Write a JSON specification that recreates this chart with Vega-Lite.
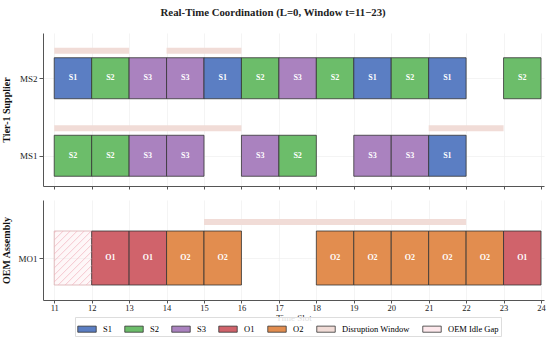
{
  "$schema": "https://vega.github.io/schema/vega-lite/v6.json",
  "padding": {"left": 1, "top": 7, "right": 4, "bottom": 2},
  "background": "white",
  "config": {
    "font": "Liberation Serif",
    "view": {"stroke": null},
    "axis": {
      "labelFont": "Liberation Serif", "titleFont": "Liberation Serif",
      "labelFontSize": 9, "titleFontSize": 10, "labelColor": "#222", "titleColor": "#111",
      "domainColor": "#555", "tickColor": "#555", "tickSize": 4,
      "gridColor": "#ececec", "gridWidth": 0.6
    },
    "axisX": {"tickSize": 3},
    "legend": {"labelFont": "Liberation Serif", "labelFontSize": 8.5}
  },
  "title": {"text": "Real-Time Coordination (L=0, Window t=11\u221223)", "anchor": "middle", "font": "Liberation Serif", "fontSize": 10.8, "fontWeight": "bold", "color": "#222", "offset": 15},
  "datasets": {
    "tasks": [
      {"machine": "MS2", "start": 11, "end": 12, "task": "S1"},
      {"machine": "MS2", "start": 12, "end": 13, "task": "S2"},
      {"machine": "MS2", "start": 13, "end": 14, "task": "S3"},
      {"machine": "MS2", "start": 14, "end": 15, "task": "S3"},
      {"machine": "MS2", "start": 15, "end": 16, "task": "S1"},
      {"machine": "MS2", "start": 16, "end": 17, "task": "S2"},
      {"machine": "MS2", "start": 17, "end": 18, "task": "S3"},
      {"machine": "MS2", "start": 18, "end": 19, "task": "S2"},
      {"machine": "MS2", "start": 19, "end": 20, "task": "S1"},
      {"machine": "MS2", "start": 20, "end": 21, "task": "S2"},
      {"machine": "MS2", "start": 21, "end": 22, "task": "S1"},
      {"machine": "MS2", "start": 23, "end": 24, "task": "S2"},
      {"machine": "MS1", "start": 11, "end": 12, "task": "S2"},
      {"machine": "MS1", "start": 12, "end": 13, "task": "S2"},
      {"machine": "MS1", "start": 13, "end": 14, "task": "S3"},
      {"machine": "MS1", "start": 14, "end": 15, "task": "S3"},
      {"machine": "MS1", "start": 16, "end": 17, "task": "S3"},
      {"machine": "MS1", "start": 17, "end": 18, "task": "S2"},
      {"machine": "MS1", "start": 19, "end": 20, "task": "S3"},
      {"machine": "MS1", "start": 20, "end": 21, "task": "S3"},
      {"machine": "MS1", "start": 21, "end": 22, "task": "S1"}
    ],
    "oem": [
      {"machine": "MO1", "start": 12, "end": 13, "task": "O1"},
      {"machine": "MO1", "start": 13, "end": 14, "task": "O1"},
      {"machine": "MO1", "start": 14, "end": 15, "task": "O2"},
      {"machine": "MO1", "start": 15, "end": 16, "task": "O2"},
      {"machine": "MO1", "start": 18, "end": 19, "task": "O2"},
      {"machine": "MO1", "start": 19, "end": 20, "task": "O2"},
      {"machine": "MO1", "start": 20, "end": 21, "task": "O2"},
      {"machine": "MO1", "start": 21, "end": 22, "task": "O2"},
      {"machine": "MO1", "start": 22, "end": 23, "task": "O2"},
      {"machine": "MO1", "start": 23, "end": 24, "task": "O1"}
    ],
    "disrupt_top": [
      {"machine": "MS2", "start": 11, "end": 13, "kind": "Disruption Window"},
      {"machine": "MS2", "start": 14, "end": 16, "kind": "Disruption Window"},
      {"machine": "MS1", "start": 11, "end": 16, "kind": "Disruption Window"},
      {"machine": "MS1", "start": 21, "end": 23, "kind": "Disruption Window"}
    ],
    "disrupt_oem": [
      {"machine": "MO1", "start": 15, "end": 22, "kind": "Disruption Window"}
    ],
    "idle": [
      {"machine": "MO1", "start": 11, "end": 12, "kind": "OEM Idle Gap"}
    ],
    "hatch": [
      {"x0": 11.0, "y0": 0.963, "x1": 11.053, "y1": 1.0},
      {"x0": 11.0, "y0": 0.833, "x1": 11.240, "y1": 1.0},
      {"x0": 11.0, "y0": 0.704, "x1": 11.427, "y1": 1.0},
      {"x0": 11.0, "y0": 0.574, "x1": 11.614, "y1": 1.0},
      {"x0": 11.0, "y0": 0.444, "x1": 11.801, "y1": 1.0},
      {"x0": 11.0, "y0": 0.315, "x1": 11.988, "y1": 1.0},
      {"x0": 11.0, "y0": 0.185, "x1": 12.0, "y1": 0.880},
      {"x0": 11.0, "y0": 0.056, "x1": 12.0, "y1": 0.750},
      {"x0": 11.107, "y0": 0.0, "x1": 12.0, "y1": 0.620},
      {"x0": 11.294, "y0": 0.0, "x1": 12.0, "y1": 0.491},
      {"x0": 11.481, "y0": 0.0, "x1": 12.0, "y1": 0.361},
      {"x0": 11.667, "y0": 0.0, "x1": 12.0, "y1": 0.231},
      {"x0": 11.854, "y0": 0.0, "x1": 12.0, "y1": 0.102}
    ]
  },
  "resolve": {"scale": {"fill": "shared", "x": "shared"}, "legend": {"fill": "shared"}},
  "spacing": 10,
  "vconcat": [
    {
      "width": 501,
      "height": 153,
      "layer": [
        {
          "data": {"name": "disrupt_top"},
          "mark": {"type": "bar", "height": 6, "yOffset": -20},
          "encoding": {
            "x": {"field": "start", "type": "quantitative", "scale": {"domain": [10.7, 24.08], "nice": false, "zero": false},
                  "axis": {"values": [11,12,13,14,15,16,17,18,19,20,21,22,23,24], "tickCount": 30, "format": "d", "labels": false, "title": null, "grid": true}},
            "x2": {"field": "end"},
            "y": {"field": "machine", "type": "nominal", "scale": {"domain": ["MS2", "MS1"], "paddingInner": 0.2, "paddingOuter": 0.087},
                  "axis": {"title": "Tier-1 Supplier", "titleFontWeight": "bold", "grid": true, "bandPosition": 0.5, "tickOffset": 7.5, "minExtent": 30, "maxExtent": 30, "titlePadding": 2}},
            "fill": {"field": "kind", "type": "nominal",
                     "scale": {"domain": ["S1", "S2", "S3", "O1", "O2", "Disruption Window", "OEM Idle Gap"],
                               "range": ["#5b7ec3", "#6cbd6a", "#aa82bf", "#d0636b", "#e28d4f", "#f1dcd7", "#fde8ec"]},
                     "legend": {"title": null, "orient": "none", "legendX": 32, "legendY": 284, "direction": "horizontal", "columns": 7,
                                "symbolType": "M-1,-0.33H1V0.33H-1Z", "symbolSize": 340, "symbolStrokeColor": "#555", "symbolStrokeWidth": 0.8,
                                "columnPadding": 11, "labelOffset": 6, "padding": 2, "strokeColor": "#dddddd", "fillColor": "rgba(255,255,255,0.85)"}}
          }
        },
        {
          "data": {"name": "tasks"},
          "mark": {"type": "bar", "height": 41, "yOffset": 7.5, "stroke": "#333", "strokeWidth": 0.8},
          "encoding": {
            "x": {"field": "start", "type": "quantitative"},
            "x2": {"field": "end"},
            "y": {"field": "machine", "type": "nominal"},
            "fill": {"field": "task", "type": "nominal"}
          }
        },
        {
          "data": {"name": "tasks"},
          "mark": {"type": "text", "yOffset": 7.5, "dx": 18.7, "align": "center", "baseline": "middle", "color": "white", "fontWeight": "bold", "fontSize": 8},
          "encoding": {
            "x": {"field": "start", "type": "quantitative"},
            "y": {"field": "machine", "type": "nominal"},
            "text": {"field": "task"}
          }
        }
      ]
    },
    {
      "width": 501,
      "height": 100,
      "resolve": {"scale": {"y": "independent"}, "axis": {"y": "independent"}},
      "layer": [
        {
          "layer": [
            {
              "data": {"name": "disrupt_oem"},
              "mark": {"type": "bar", "height": 6, "yOffset": -28},
              "encoding": {
                "x": {"field": "start", "type": "quantitative", "scale": {"domain": [10.7, 24.08], "nice": false, "zero": false},
                      "axis": {"values": [11,12,13,14,15,16,17,18,19,20,21,22,23,24], "tickCount": 30, "format": "d", "labelOverlap": false, "labelFlush": false, "labelFontSize": 8.5, "title": "Time Slot", "titleFontSize": 9, "titleFontWeight": "normal", "grid": true, "labelPadding": 0, "titlePadding": 2}},
                "x2": {"field": "end"},
                "y": {"field": "machine", "type": "nominal", "scale": {"domain": ["MO1"]},
                      "axis": {"title": "OEM Assembly", "titleFontWeight": "bold", "grid": true, "bandPosition": 0.5, "tickOffset": 8, "minExtent": 30, "maxExtent": 30, "titlePadding": 2}},
                "fill": {"field": "kind", "type": "nominal"}
              }
            },
            {
              "data": {"name": "idle"},
              "mark": {"type": "bar", "height": 54, "yOffset": 8, "stroke": "#d9aeb0", "strokeWidth": 0.8, "fillOpacity": 0.35},
              "encoding": {
                "x": {"field": "start", "type": "quantitative"},
                "x2": {"field": "end"},
                "y": {"field": "machine", "type": "nominal"},
                "fill": {"field": "kind", "type": "nominal"}
              }
            },
            {
              "data": {"name": "oem"},
              "mark": {"type": "bar", "height": 54, "yOffset": 8, "stroke": "#333", "strokeWidth": 0.8},
              "encoding": {
                "x": {"field": "start", "type": "quantitative"},
                "x2": {"field": "end"},
                "y": {"field": "machine", "type": "nominal"},
                "fill": {"field": "task", "type": "nominal"}
              }
            },
            {
              "data": {"name": "oem"},
              "mark": {"type": "text", "yOffset": 8, "dx": 18.7, "align": "center", "baseline": "middle", "color": "white", "fontWeight": "bold", "fontSize": 8},
              "encoding": {
                "x": {"field": "start", "type": "quantitative"},
                "y": {"field": "machine", "type": "nominal"},
                "text": {"field": "task"}
              }
            }
          ]
        },
        {
          "data": {"name": "hatch"},
          "mark": {"type": "rule", "color": "#f0b0bb", "strokeWidth": 0.7},
          "encoding": {
            "x": {"field": "x0", "type": "quantitative"},
            "x2": {"field": "x1"},
            "y": {"field": "y0", "type": "quantitative", "scale": {"domain": [-0.2778, 1.5741], "nice": false, "zero": false}, "axis": null},
            "y2": {"field": "y1"}
          }
        }
      ]
    }
  ]
}
